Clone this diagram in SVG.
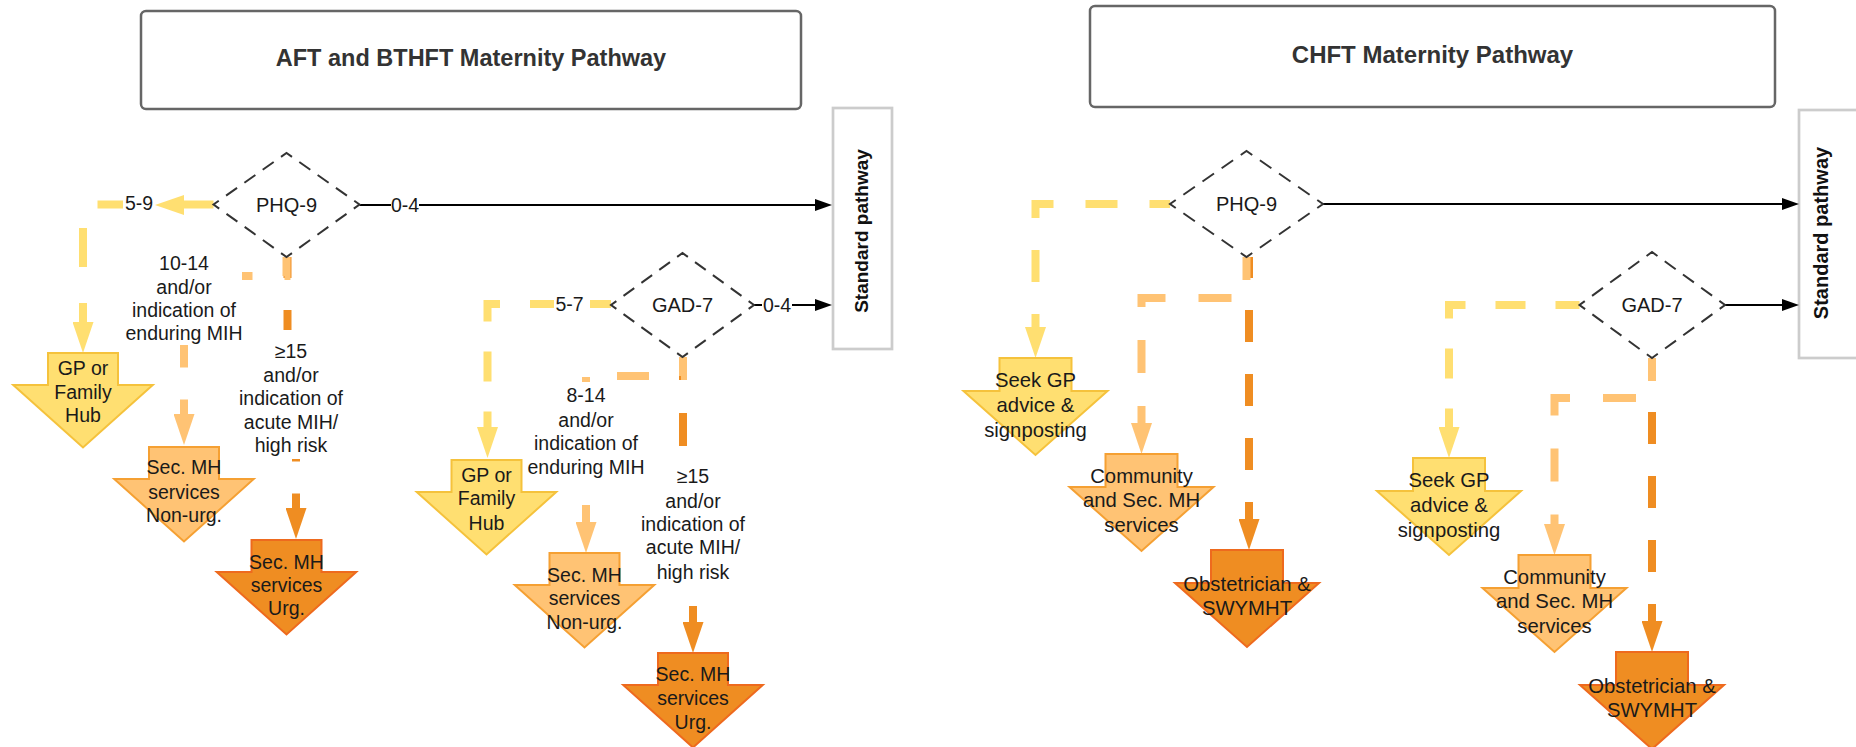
<svg xmlns="http://www.w3.org/2000/svg" width="1856" height="747" viewBox="0 0 1856 747">
<style>
text{font-family:"Liberation Sans",Arial,sans-serif;text-anchor:middle;fill:#1a1a1a}
.title{font-weight:bold;fill:#333}
.tbox{fill:#fff;stroke:#666;stroke-width:2.5}
.sbox{fill:#fff;stroke:#ccc;stroke-width:2.7}
.sp{font-weight:bold;fill:#111}
.dia{fill:#fff;stroke:#333;stroke-width:2;stroke-dasharray:0.6 0.4;stroke-dashoffset:0.3}
.tl{font-size:19.5px}
.tr{font-size:20.3px}
.td{font-size:20px}
.blk{fill:none;stroke:#000;stroke-width:2}
.c{fill:none;stroke-width:8}
.y{stroke:#FFDF71}
.lo{stroke:#FFC374}
.do{stroke:#EF8D22}
.bg{fill:#fff}
.ny{fill:#FFDF71;stroke:#F5C23C;stroke-width:2}
.nlo{fill:#FFC374;stroke:#F5A033;stroke-width:2}
.ndo{fill:#EF8D22;stroke:#EE6A1E;stroke-width:2}
</style>
<defs>
<marker id="mb" markerUnits="userSpaceOnUse" markerWidth="17" markerHeight="12" refX="0" refY="6" orient="auto"><path d="M0,0 L17,6 L0,12 z" fill="#000"/></marker>
<marker id="my" markerUnits="userSpaceOnUse" markerWidth="31" markerHeight="21" refX="0" refY="10.5" orient="auto"><path d="M0,0 L31,10.5 L0,21 z" fill="#FFDF71"/></marker>
<marker id="mlo" markerUnits="userSpaceOnUse" markerWidth="31" markerHeight="21" refX="0" refY="10.5" orient="auto"><path d="M0,0 L31,10.5 L0,21 z" fill="#FFC374"/></marker>
<marker id="mdo" markerUnits="userSpaceOnUse" markerWidth="31" markerHeight="21" refX="0" refY="10.5" orient="auto"><path d="M0,0 L31,10.5 L0,21 z" fill="#EF8D22"/></marker>
<path id="arL" d="M-35,0 H35 V32 H69.75 L0,94.5 L-69.75,32 H-35 Z"/>
<path id="arR" d="M-36,0 H36 V33 H72 L0,97 L-72,33 H-36 Z"/>
</defs>

<g id="title-left"><rect class="tbox" x="141" y="11" width="660" height="98" rx="5"/><text class="title" x="471" y="65.5" font-size="23.5">AFT and BTHFT Maternity Pathway</text></g>
<g id="title-right"><rect class="tbox" x="1090" y="6" width="685" height="101" rx="5"/><text class="title" x="1432.5" y="62.5" font-size="24">CHFT Maternity Pathway</text></g>

<g id="std-left"><rect class="sbox" x="833" y="108" width="59" height="241"/><text class="sp" font-size="19" transform="translate(861,231) rotate(-90)" x="0" y="7">Standard pathway</text></g>
<g id="std-right"><rect class="sbox" x="1799" y="110" width="60" height="248"/><text class="sp" font-size="20" transform="translate(1821,233) rotate(-90)" x="0" y="7">Standard pathway</text></g>

<g id="connectors">
<path class="blk" d="M359.5,205 H815" marker-end="url(#mb)"/>
<path class="blk" d="M754,305 H815" marker-end="url(#mb)"/>
<path class="blk" d="M1323,204 H1782" marker-end="url(#mb)"/>
<path class="blk" d="M1725,305 H1782" marker-end="url(#mb)"/>

<path class="c y" d="M213.5,204.5 H83 V322" stroke-dasharray="30 54 32 38 39 36 60" marker-end="url(#my)"/>
<polygon points="184,195 155,205 184,215" fill="#FFDF71"/>
<path class="c do" d="M287.5,257 V400 H296 V508" stroke-dasharray="32 32" stroke-dashoffset="11" marker-end="url(#mdo)"/>
<path class="c lo" d="M286.5,257 V276 H184 V414" stroke-dasharray="32 32" stroke-dashoffset="11" marker-end="url(#mlo)"/>
<path class="c y" d="M611,304 H487.5 V427" stroke-dasharray="30 30" stroke-dashoffset="9" marker-end="url(#my)"/>
<path class="c do" d="M683,357 V520 H693 V622" stroke-dasharray="23 33 33 170 100" marker-end="url(#mdo)"/>
<path class="c lo" d="M683,357 V376 H586 V522" stroke-dasharray="32 32" stroke-dashoffset="11" marker-end="url(#mlo)"/>

<path class="c y" d="M1170,204 H1035.5 V327" stroke-dasharray="32 32" stroke-dashoffset="11.5" marker-end="url(#my)"/>
<path class="c do" d="M1249,257 V519" stroke-dasharray="32 32" stroke-dashoffset="11" marker-end="url(#mdo)"/>
<path class="c lo" d="M1246.5,257 V298 H1141.5 V423" stroke-dasharray="33 33" stroke-dashoffset="10" marker-end="url(#mlo)"/>
<path class="c y" d="M1579.5,305 H1449 V427" stroke-dasharray="30 30" stroke-dashoffset="6" marker-end="url(#my)"/>
<path class="c do" d="M1652,358 V621" stroke-dasharray="32 32" stroke-dashoffset="10" marker-end="url(#mdo)"/>
<path class="c lo" d="M1652,358 V398 H1554.5 V524" stroke-dasharray="33 33" stroke-dashoffset="10" marker-end="url(#mlo)"/>

<g id="label-bgs">
<rect class="bg" x="391" y="195" width="28" height="19"/>
<rect class="bg" x="762" y="295" width="30" height="19"/>
<rect class="bg" x="123" y="193" width="32" height="20"/>
<rect class="bg" x="554" y="294" width="33" height="20"/>
<rect class="bg" x="126" y="251" width="116" height="94"/>
<rect class="bg" x="236" y="330" width="110" height="129"/>
<rect class="bg" x="526" y="382" width="120" height="96"/>
<rect class="bg" x="638" y="462" width="110" height="123"/>
</g>
<g id="labels" class="tl">
<text x="405" y="211.5">0-4</text>
<text x="777" y="311.5">0-4</text>
<text x="139" y="209.5">5-9</text>
<text x="569.5" y="311">5-7</text>
<text x="184" y="270.3">10-14</text><text x="184" y="293.7">and/or</text><text x="184" y="317">indication of</text><text x="184" y="340.3">enduring MIH</text>
<text x="291" y="358">≥15</text><text x="291" y="382">and/or</text><text x="291" y="405.3">indication of</text><text x="291" y="428.7">acute MIH/</text><text x="291" y="452">high risk</text>
<text x="586" y="402">8-14</text><text x="586" y="427">and/or</text><text x="586" y="450.3">indication of</text><text x="586" y="474.3">enduring MIH</text>
<text x="693" y="482.7">≥15</text><text x="693" y="507.7">and/or</text><text x="693" y="531">indication of</text><text x="693" y="554.3">acute MIH/</text><text x="693" y="578.7">high risk</text>
</g>
</g>

<g id="phq9-left"><path class="dia" pathLength="16" d="M286.5,153 L359.5,204.5 L286.5,257 L213.5,204.5 Z"/><text class="td" x="286.5" y="211.5">PHQ-9</text></g>
<g id="gad7-left"><path class="dia" pathLength="16" d="M682.5,253 L754,305 L682.5,357 L611,305 Z"/><text class="td" x="682.5" y="312">GAD-7</text></g>
<g id="phq9-right"><path class="dia" pathLength="16" d="M1246.5,151 L1323,204 L1246.5,257 L1170,204 Z"/><text class="td" x="1246.5" y="211">PHQ-9</text></g>
<g id="gad7-right"><path class="dia" pathLength="16" d="M1652,252 L1725,305 L1652,358 L1579.5,305 Z"/><text class="td" x="1652" y="312">GAD-7</text></g>

<g id="gp-left" class="tl"><use href="#arL" class="ny" x="83" y="353"/><text x="83" y="375">GP or</text><text x="83" y="399">Family</text><text x="83" y="422">Hub</text></g>
<g id="nonurg-left" class="tl"><use href="#arL" class="nlo" x="184" y="447"/><text x="184" y="474">Sec. MH</text><text x="184" y="499">services</text><text x="184" y="522">Non-urg.</text></g>
<g id="urg-left" class="tl"><use href="#arL" class="ndo" x="286.5" y="540"/><text x="286.5" y="569">Sec. MH</text><text x="286.5" y="592">services</text><text x="286.5" y="615">Urg.</text></g>
<g id="gp-left2" class="tl"><use href="#arL" class="ny" x="486.5" y="460"/><text x="486.5" y="482">GP or</text><text x="486.5" y="505">Family</text><text x="486.5" y="530">Hub</text></g>
<g id="nonurg-left2" class="tl"><use href="#arL" class="nlo" x="584.5" y="553"/><text x="584.5" y="582">Sec. MH</text><text x="584.5" y="605">services</text><text x="584.5" y="629">Non-urg.</text></g>
<g id="urg-left2" class="tl"><use href="#arL" class="ndo" x="693" y="653"/><text x="693" y="681">Sec. MH</text><text x="693" y="705">services</text><text x="693" y="729">Urg.</text></g>

<g id="seek-right1" class="tr"><use href="#arR" class="ny" x="1035.5" y="358"/><text x="1035.5" y="387">Seek GP</text><text x="1035.5" y="412">advice &amp;</text><text x="1035.5" y="437">signposting</text></g>
<g id="comm-right1" class="tr"><use href="#arR" class="nlo" x="1141.5" y="454"/><text x="1141.5" y="483">Community</text><text x="1141.5" y="507">and Sec. MH</text><text x="1141.5" y="532">services</text></g>
<g id="obs-right1" class="tr"><use href="#arR" class="ndo" x="1247" y="550"/><text x="1247" y="591">Obstetrician &amp;</text><text x="1247" y="615">SWYMHT</text></g>
<g id="seek-right2" class="tr"><use href="#arR" class="ny" x="1449" y="458"/><text x="1449" y="487">Seek GP</text><text x="1449" y="512">advice &amp;</text><text x="1449" y="537">signposting</text></g>
<g id="comm-right2" class="tr"><use href="#arR" class="nlo" x="1554.5" y="555"/><text x="1554.5" y="584">Community</text><text x="1554.5" y="608">and Sec. MH</text><text x="1554.5" y="633">services</text></g>
<g id="obs-right2" class="tr"><use href="#arR" class="ndo" x="1652" y="652"/><text x="1652" y="693">Obstetrician &amp;</text><text x="1652" y="717">SWYMHT</text></g>
</svg>
